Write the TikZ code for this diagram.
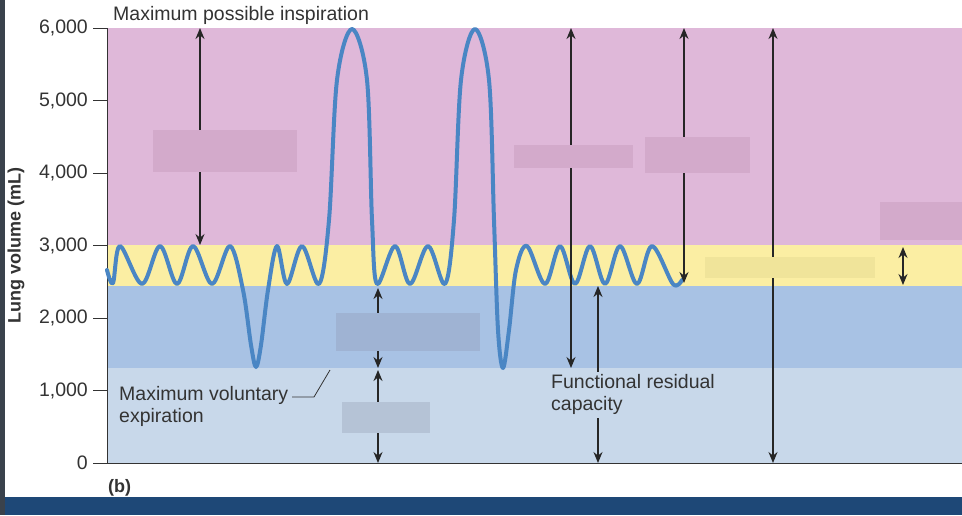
\documentclass[tikz,border=0pt]{standalone}
\usepackage{fontspec}
\setmainfont{Liberation Sans}
\usetikzlibrary{arrows.meta}
\definecolor{pinkb}{HTML}{DFB8D9}
\definecolor{yelb}{HTML}{FBEEA3}
\definecolor{blueb}{HTML}{A8C2E4}
\definecolor{lblueb}{HTML}{C8D8EA}
\definecolor{wave}{HTML}{4A86C4}
\definecolor{frame}{HTML}{3A424C}
\definecolor{barb}{HTML}{1E4877}
\definecolor{txt}{HTML}{333333}
\definecolor{pmask}{HTML}{D3AACB}
\definecolor{ymask}{HTML}{F0E49A}
\definecolor{bmask}{HTML}{9FB3D3}
\definecolor{lbmask}{HTML}{B5C3D6}
\tikzset{
  dbl/.style={{Stealth[length=11pt,width=9pt]}-{Stealth[length=11pt,width=9pt]}, line width=1.5pt, black!85},
  sgl/.style={-{Stealth[length=11pt,width=9pt]}, line width=1.5pt, black!85},
  lbl/.style={font=\fontsize{19.5}{22}\selectfont, text=txt, inner sep=0pt},
  tick/.style={font=\fontsize{19.5}{22}\selectfont, text=txt, anchor=east, inner sep=0pt}
}
\begin{document}
\begin{tikzpicture}[x=1pt,y=-1pt]
\useasboundingbox (0,0) rectangle (962,515);
\fill[white] (0,0) rectangle (962,515);
\fill[frame] (0,0) rectangle (5,515);
\fill[barb] (5,497) rectangle (962,515);
% bands
\fill[pinkb] (107,28) rectangle (962,245);
\fill[yelb] (107,245) rectangle (962,286);
\fill[blueb] (107,286) rectangle (962,368);
\fill[lblueb] (107,368) rectangle (962,463);
% axes
\draw[txt, line width=1pt] (107,28) -- (107,463) -- (962,463);
\foreach \v/\t in {0/0,1000/{1,000},2000/{2,000},3000/{3,000},4000/{4,000},5000/{5,000},6000/{6,000}}{
  \draw[txt, line width=1pt] (93,{463-\v*0.0725}) -- (107,{463-\v*0.0725});
  \node[tick] (t\v) at (88,{463-\v*0.0725}) {\t};
}
\node[lbl, rotate=90, font=\fontsize{18}{20}\selectfont\bfseries] (ylab) at (16,245) {Lung volume (mL)};
\node[lbl, font=\fontsize{18}{20}\selectfont\bfseries, anchor=west] (b) at (108,488) {(b)};
% wave
\draw[wave, line width=4pt, line cap=round, line join=round] plot[smooth, tension=0.55] coordinates {
(107,270) (113,283) (120,246) (142,284) (160,246) (177,284) (193,246) (212,284) (230,246)
(243,290) (251,345) (256,367) (261,345) (268,290) (277,246) (287,284) (302,246) (319,284)
(329,220) (337,80) (352,29) (367,80) (372,220)
(377,284) (395,246) (410,284) (428,246) (445,284)
(454,220) (461,80) (475,29) (489,80) (494,220)
(498,330) (503,368) (509,330) (516,270)
(527,246) (545,284) (560,246) (575,284) (590,246) (605,284) (620,246) (637,284) (652,246) (673,284) (682,280)};
% arrows and masks
\coordinate (a1t) at (200,28); \coordinate (a1b) at (200,245);
\draw[dbl] (a1t) -- (a1b);
\fill[pmask] (153,130) rectangle (297,172);
\coordinate (e1) at (378,288); \coordinate (e2) at (378,368); \coordinate (e0) at (378,330);
\draw[sgl] (e0) -- (e1); \draw[sgl] (e0) -- (e2);
\fill[bmask] (336,313) rectangle (480,351);
\coordinate (r1) at (378,370); \coordinate (r2) at (378,463); \coordinate (r0) at (378,415);
\draw[sgl] (r0) -- (r1); \draw[sgl] (r0) -- (r2);
\fill[lbmask] (342,402) rectangle (430,433);
\coordinate (c1t) at (571,28); \coordinate (c1b) at (571,368);
\draw[dbl] (c1t) -- (c1b);
\fill[pmask] (514,145) rectangle (633,168);
\coordinate (c2t) at (684,28); \coordinate (c2b) at (684,283);
\draw[dbl] (c2t) -- (c2b);
\fill[pmask] (645,137) rectangle (750,173);
\coordinate (c3t) at (773,28); \coordinate (c3b) at (773,463);
\draw[dbl] (c3t) -- (c3b);
\fill[ymask] (705,257) rectangle (875,278);
\coordinate (f1) at (598,286); \coordinate (f2) at (598,463);
\draw[dbl] (f1) -- (f2);
\fill[lblueb] (590,372) rectangle (606,418);
\coordinate (tv1) at (903,247); \coordinate (tv2) at (903,285);
\draw[dbl] (tv1) -- (tv2);
\fill[pmask] (880,202) rectangle (962,240);
% texts
\node[lbl, anchor=west] (mpi) at (113,15) {Maximum possible inspiration};
\node[lbl, anchor=north west, align=left] (mve) at (119,386) {Maximum voluntary\\expiration};
\node[lbl, anchor=north west, align=left] (frc) at (551,374) {Functional residual\\capacity};
\coordinate (mvep) at (330,370);
\draw[txt, line width=0.8pt] (292,397) -- (314,397) -- (mvep);
\end{tikzpicture}
\end{document}
